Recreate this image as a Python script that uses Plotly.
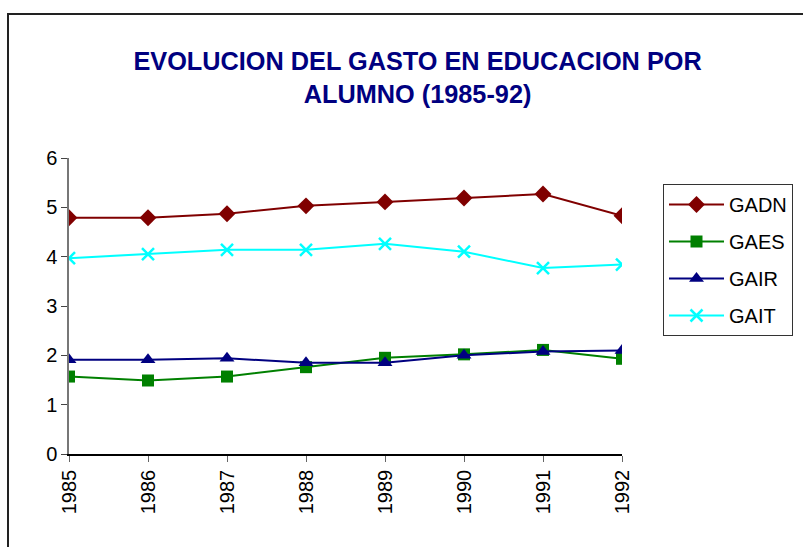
import plotly.graph_objects as go

# Datos (gasto por alumno)
ANIOS = [1985, 1986, 1987, 1988, 1989, 1990, 1991, 1992]
GADN = [4.79, 4.79, 4.87, 5.03, 5.11, 5.19, 5.27, 4.83]
GAES = [1.57, 1.49, 1.57, 1.76, 1.95, 2.02, 2.11, 1.93]
GAIR = [1.91, 1.91, 1.94, 1.85, 1.85, 2.00, 2.08, 2.10]
GAIT = [3.97, 4.05, 4.14, 4.14, 4.26, 4.10, 3.77, 3.84]
Y_TICKS = [0, 1, 2, 3, 4, 5, 6]

FONT = "Liberation Sans, Arial, sans-serif"
W, H = 803, 547
L, R, T, B = 69, 181, 158, 93

series = [
    ("GADN", GADN, "#800000", dict(symbol="diamond", size=13)),
    ("GAES", GAES, "#008000", dict(symbol="square", size=12)),
    ("GAIR", GAIR, "#000080", dict(symbol="triangle-up", size=13)),
    ("GAIT", GAIT, "#00FFFF", dict(symbol="x-thin", size=12,
                                   line=dict(color="#00FFFF", width=2.5))),
]

fig = go.Figure()
for i, (name, vals, col, mk) in enumerate(series):
    fig.add_trace(go.Scatter(
        x=ANIOS, y=vals, name=name, mode="lines+markers",
        legendgroup=f"g{i}",
        line=dict(color=col, width=2),
        marker=dict(color=col, **mk)))

# marco exterior del gráfico
pw, ph = W - L - R, H - T - B
fig.add_shape(type="rect", xref="paper", yref="paper",
              x0=(8 - L) / pw, x1=(W + 20 - L) / pw,
              y0=(H - B - (H + 20)) / ph, y1=(H - B - 14) / ph,
              line=dict(color="#222222", width=2), layer="below")

fig.update_layout(
    width=W, height=H,
    paper_bgcolor="white", plot_bgcolor="white",
    font=dict(family=FONT, color="black", size=20),
    margin=dict(l=L, r=R, t=T, b=B),
    title=dict(text="<b>EVOLUCION DEL GASTO EN EDUCACION POR<br>ALUMNO (1985-92)</b>",
               font=dict(size=25.3, color="#000080", family=FONT),
               xref="container", x=0.52, xanchor="center",
               yref="container", y=1 - 70 / H, yanchor="middle"),
    showlegend=True,
    legend=dict(xref="container", x=663 / W, xanchor="left",
                yref="container", y=1 - 184 / H, yanchor="top",
                bordercolor="#333333", borderwidth=1, bgcolor="white",
                font=dict(size=20, family=FONT), itemwidth=55,
                traceorder="grouped", tracegroupgap=8),
    xaxis=dict(range=[1985, 1992], tickvals=ANIOS, ticktext=[str(a) for a in ANIOS],
               tickangle=-90, showgrid=False, zeroline=False,
               showline=True, linecolor="black", linewidth=1.5,
               ticks="outside", ticklen=6, tickcolor="#666666"),
    yaxis=dict(range=[0, 6], tickvals=Y_TICKS, showgrid=False, zeroline=False,
               showline=True, linecolor="#777777", linewidth=1.5,
               ticks="outside", ticklen=6, tickcolor="#444444"),
    xaxis2=dict(overlaying="x", range=[1985, 1992], tickvals=ANIOS,
                showticklabels=False, showgrid=False, zeroline=False,
                ticks="inside", ticklen=5, tickcolor="#666666"),
    yaxis2=dict(overlaying="y", range=[0, 6], tickvals=Y_TICKS,
                showticklabels=False, showgrid=False, zeroline=False,
                ticks="inside", ticklen=5, tickcolor="#444444"),
)

fig.write_html("out.html", config={"displayModeBar": False},
               post_script="document.body.style.margin='0';")
